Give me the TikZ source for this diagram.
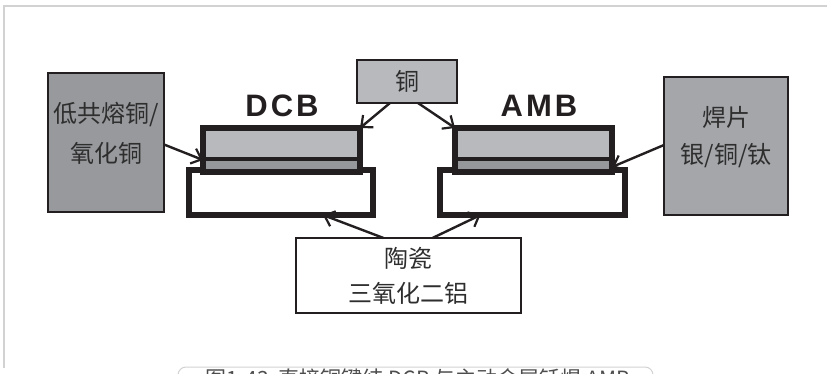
\documentclass[tikz,border=0pt]{standalone}
\usepackage{fontspec}
\setmainfont{Liberation Sans}
\newfontfamily\cjk{Noto Sans CJK SC}
\usetikzlibrary{arrows.meta}
\definecolor{frameg}{HTML}{D2D2D2}
\definecolor{edgec}{HTML}{231F20}
\definecolor{lboxc}{HTML}{98999D}
\definecolor{rboxc}{HTML}{A5A6AA}
\definecolor{cuc}{HTML}{B8B9BD}
\definecolor{layc}{HTML}{96979B}
\definecolor{txtc}{HTML}{2E2E2E}
\tikzset{
  box/.style={draw=edgec, line width=2.2pt, minimum width=#1, inner sep=0pt, outer sep=0pt, text=txtc, align=center, font=\cjk\fontsize{24}{41}\selectfont},
  boxtext/.style={inner sep=0pt, text=txtc, align=center, font=\cjk\fontsize{24}{40}\selectfont},
  thick box/.style={draw=edgec, line width=5.5pt, inner sep=0pt, outer sep=0pt},
  arr/.style={draw=edgec, line width=2.4pt, -{Straight Barb[length=9pt,width=16pt,line width=2.2pt]}},
  title/.style={font=\bfseries\fontsize{31}{32}\selectfont, text=edgec, inner sep=0pt},
}
\begin{document}
\begin{tikzpicture}[x=1pt,y=-1pt]
\useasboundingbox (0,0) rectangle (827,374);
% frame
\draw[frameg, line width=1.5pt] (3,6) -- (827,6);
\draw[frameg, line width=1.5pt] (4,6) -- (4,368);
% caption (cut off at the lower edge, as in the reference)
\begin{scope}
\clip (0,0) rectangle (827,374);
\draw[frameg, line width=1pt, rounded corners=8pt] (178,392) -- (178,367) -- (653,367) -- (653,392);
\node[anchor=north, inner sep=0pt, text=txtc!85, font=\cjk\fontsize{21}{21}\selectfont] (cap) at (418,368.5) {图1-43\ \ 直接铜键结 DCB 与主动金属钎焊 AMB};
\end{scope}
% side boxes
\node[box=116pt, minimum height=139pt, fill=lboxc] (lbox) at (106,142.5) {};
\node[boxtext] (lboxt) at (106,133) {低共熔铜/\\氧化铜};
\node[box=124pt, minimum height=138pt, fill=rboxc] (rbox) at (726,146) {};
\node[boxtext, font=\cjk\fontsize{24}{37}\selectfont] (rboxt) at (726,137) {焊片\\银/铜/钛};
\node[box=100pt, minimum height=43pt, fill=cuc] (cu) at (407,81.5) {铜};
\node[box=225pt, minimum height=75pt, fill=white, font=\cjk\fontsize{24}{35}\selectfont] (cer) at (408.5,275.5) {陶瓷\\三氧化二铝};
% DCB
\node[thick box, fill=white, minimum width=184pt, minimum height=45pt] (dcbcer) at (281,192.5) {};
\node[thick box, fill=cuc, minimum width=157pt, minimum height=44pt] (dcbcu) at (281.5,150) {};
\fill[layc] (dcbcu.west |- 0,159) rectangle (dcbcu.south east);
\draw[edgec, line width=4.5pt] (dcbcu.west |- 0,159) -- (dcbcu.east |- 0,159);
\draw[edgec, line width=5.5pt] (dcbcu.north west) rectangle (dcbcu.south east);
\node[title] (dcbt) at (282,106) {D\kern3pt C\kern3pt B};
% AMB
\node[thick box, fill=white, minimum width=185pt, minimum height=45pt] (ambcer) at (532.5,192.5) {};
\node[thick box, fill=cuc, minimum width=157pt, minimum height=44pt] (ambcu) at (533.5,150) {};
\fill[layc] (ambcu.west |- 0,159) rectangle (ambcu.south east);
\draw[edgec, line width=4.5pt] (ambcu.west |- 0,159) -- (ambcu.east |- 0,159);
\draw[edgec, line width=5.5pt] (ambcu.north west) rectangle (ambcu.south east);
\node[title] (ambt) at (539,106) {A\kern3pt M\kern3pt B};
% arrows
\draw[arr] ([yshift=-2pt]lbox.east) -- ([yshift=-10pt]dcbcu.west);
\draw[arr] ([xshift=-17pt]cu.south) -- (dcbcu.north east);
\draw[arr] ([xshift=11pt]cu.south) -- (ambcu.north west);
\draw[arr] ([yshift=1pt]rbox.west) -- ([yshift=-17pt]ambcu.east);
\draw[arr] ([xshift=-25pt]cer.north) -- ([xshift=42pt]dcbcer.south);
\draw[arr] ([xshift=24pt]cer.north) -- ([xshift=-52pt]ambcer.south);
\end{tikzpicture}
\end{document}
